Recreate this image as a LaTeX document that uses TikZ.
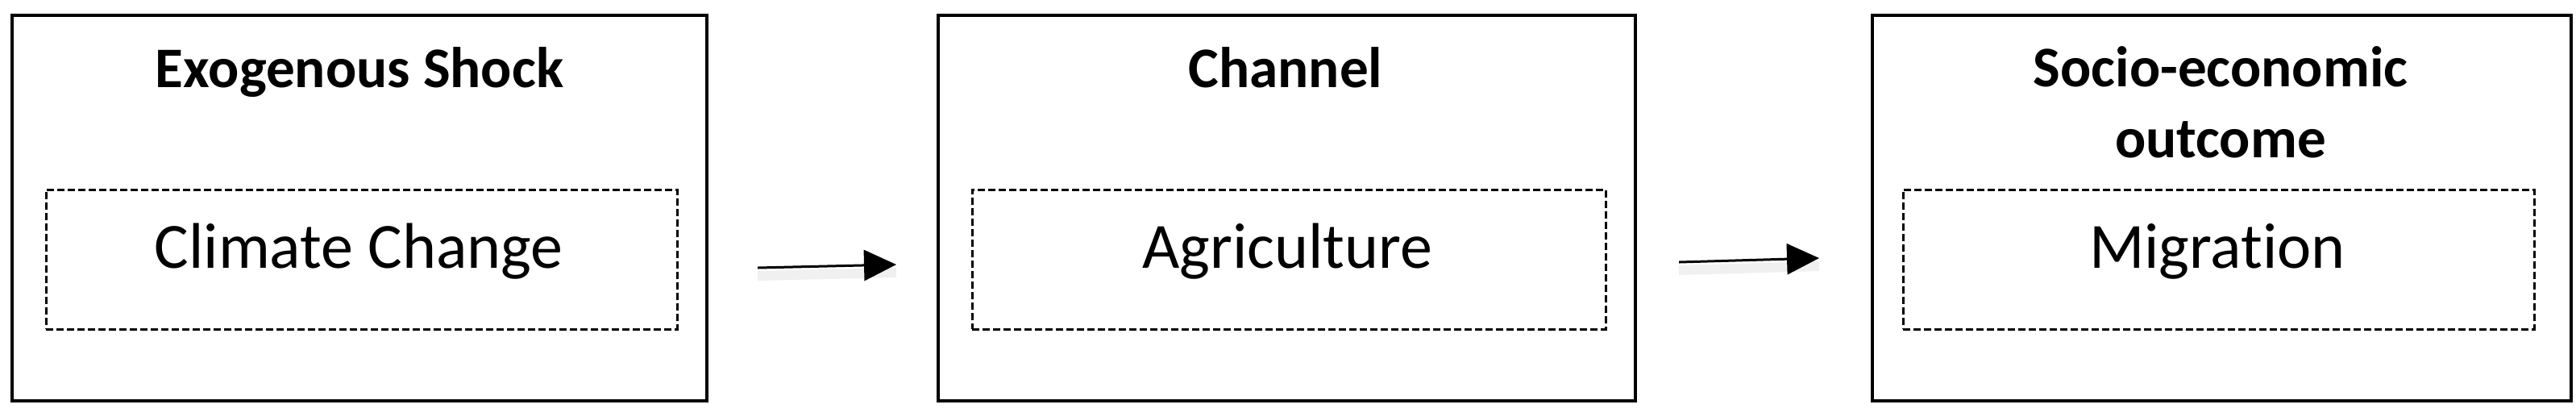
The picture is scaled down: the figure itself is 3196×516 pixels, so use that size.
\documentclass[tikz,border=0pt]{standalone}
\usepackage{fontspec}
\setmainfont{Carlito}[Ligatures=NoCommon]
\usetikzlibrary{arrows.meta}
\begin{document}
\begin{tikzpicture}[x=0.25pt,y=-0.25pt,
  outerbox/.style={draw=black,line width=1pt,rectangle,inner sep=0pt,minimum height=119.5pt},
  innerbox/.style={draw=black,line width=0.75pt,dash pattern=on 2.25pt off 1pt,rectangle,inner sep=0pt,minimum height=43.25pt},
  titletext/.style={font=\fontsize{17.8}{22}\selectfont\bfseries,anchor=base,align=center,inner sep=0pt},
  labeltext/.style={font=\fontsize{20}{24}\selectfont,anchor=base,inner sep=0pt},
  flow/.style={line width=0.75pt,-{Triangle[length=10pt,width=9.5pt]},
    preaction={draw=black!6,line width=3pt,-,transform canvas={yshift=-2.5pt}}}]
\useasboundingbox (0,0) rectangle (3196,516);
\fill[white] (0,0) rectangle (3196,516);
% outer boxes
\node[outerbox,minimum width=215.5pt] (shock) at (446,258) {};
\node[outerbox,minimum width=216.25pt] (channel) at (1596.5,258) {};
\node[outerbox,minimum width=216.75pt] (outcome) at (2756.5,258) {};
% inner dashed boxes
\node[innerbox,minimum width=195.75pt] (climatebox) at (448.5,321.5) {};
\node[innerbox,minimum width=196.5pt] (agribox) at (1599,321.5) {};
\node[innerbox,minimum width=195.75pt] (migbox) at (2752.5,321.5) {};
% titles
\node[titletext] (t1) at (446,108) {Exogenous Shock};
\node[titletext] (t2) at (1595,108) {Channel};
\node[titletext] (t3) at (2755,195) {Socio-economic\\outcome};
% labels
\node[labeltext] (l1) at (445,332) {Climate Change};
\node[labeltext] (l2) at (1597,332) {Agriculture};
\node[labeltext] (l3) at (2751,332) {Migration};
% arrows
\coordinate (a1s) at (940,332);
\coordinate (a1e) at (1112,328);
\coordinate (a2s) at (2083,325);
\coordinate (a2e) at (2257,320);
\draw[flow] (a1s) -- (a1e);
\draw[flow] (a2s) -- (a2e);
\end{tikzpicture}
\end{document}
